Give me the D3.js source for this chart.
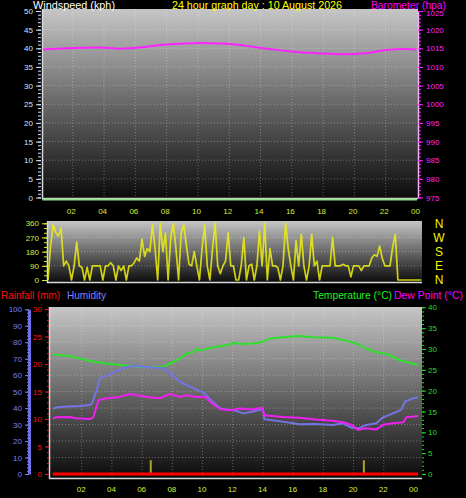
<!DOCTYPE html>
<html>
<head>
<meta charset="utf-8">
<script src="https://cdn.jsdelivr.net/npm/d3@7"></script>
<style>
  body { margin: 0; background: #000; }
  svg { display: block; font-family: "Liberation Sans", Arial, sans-serif; }
</style>
</head>
<body>
<div id="chart"></div>
<script>
// ---- data ----
const hourTicks = [2, 4, 6, 8, 10, 12, 14, 16, 18, 20, 22, 24];
const hourLabels = ["02", "04", "06", "08", "10", "12", "14", "16", "18", "20", "22", "00"];

// wind speed (kph) - calm all day
const windHours = [0.05, 24.0];
const windValues = [0, 0];

// barometer (hpa)
const baroHours = [0.1, 1.6, 3.7, 5.0, 6.3, 7.6, 8.85, 10.1, 11.4, 12.2, 13.5, 14.8, 16.1, 17.6, 19.3, 20.75, 21.8, 23.1, 23.95];
const baroValues = [1014.7, 1015.0, 1015.2, 1014.9, 1015.2, 1015.9, 1016.2, 1016.4, 1016.3, 1016.1, 1015.4, 1014.7, 1014.1, 1013.7, 1013.4, 1013.7, 1014.4, 1014.8, 1014.7];

// wind direction (degrees), one reading every 10 minutes
const dirStepMinutes = 10;
const dirValues = [
  0, 220, 350, 300, 280, 330, 90, 120, 90, 0,
  90, 240, 90, 80, 0, 80, 0, 90, 90, 90,
  90, 0, 90, 90, 110, 90, 0, 90, 60, 90,
  0, 90, 90, 110, 140, 120, 260, 150, 200, 180,
  350, 200, 0, 360, 180, 300, 0, 270, 360, 200,
  0, 300, 350, 220, 100, 90, 180, 90, 0, 200,
  350, 90, 0, 200, 360, 90, 40, 90, 120, 300,
  90, 90, 0, 0, 90, 270, 0, 90, 100, 0,
  90, 310, 90, 360, 0, 200, 90, 90, 80, 0,
  90, 360, 200, 90, 0, 250, 90, 290, 90, 0,
  90, 290, 90, 120, 0, 90, 90, 90, 90, 270,
  90, 90, 90, 100, 90, 90, 20, 90, 90, 90,
  60, 90, 90, 90, 140, 160, 150, 215, 140, 90,
  90, 90, 210, 290, 0, 0, 0, 0, 0, 0,
  0, 0, 0, 0
];
const compassValues = [0, 90, 180, 270, 360];
const compassLabels = ["N", "E", "S", "W", "N"];

// temperature (C)
const tempHours = [0.1, 1.2, 1.9, 2.55, 3.65, 4.75, 5.86, 7.3, 7.6, 8.5, 8.95, 9.4, 9.6, 9.8, 10.7, 11.6, 12.15, 12.5, 13.3, 14.0, 14.45, 15.3, 16.3, 17.3, 18.6, 19.5, 20.2, 20.85, 21.5, 22.2, 23.05, 23.7, 24.27];
const tempValues = [28.7, 28.3, 27.7, 27.1, 26.5, 26.1, 25.7, 25.7, 26.1, 27.7, 28.9, 29.3, 30.1, 29.6, 30.4, 30.9, 31.5, 31.2, 31.3, 31.7, 32.5, 32.8, 33.1, 32.8, 32.7, 32.0, 31.3, 30.1, 29.2, 28.8, 27.3, 26.7, 26.1];

// humidity (%)
const humHours = [0.1, 0.35, 0.8, 1.9, 2.55, 2.7, 3.0, 3.2, 3.65, 4.1, 4.5, 5.0, 5.6, 6.5, 7.4, 7.85, 8.3, 8.7, 9.4, 10.05, 10.5, 11.15, 11.8, 12.0, 12.7, 13.3, 14.0, 14.1, 15.3, 16.4, 17.5, 18.6, 19.3, 19.85, 20.3, 20.85, 21.5, 21.95, 22.6, 23.15, 23.4, 23.95, 24.27];
const humValues = [39.5, 40.5, 40.9, 41.3, 41.9, 43.3, 51, 58.1, 59.7, 61.7, 63.1, 65.1, 65.6, 64.8, 64.2, 61.5, 57.5, 55.1, 52, 49.6, 45.4, 39.9, 38.9, 38.9, 36.8, 37.8, 39.5, 33.2, 31.8, 30.2, 30.4, 29.8, 30.8, 28.1, 27.7, 29.8, 30.8, 34.4, 36.8, 38.9, 43.9, 46, 46.6];

// dew point (C)
const dewHours = [0.1, 0.35, 1.2, 1.6, 2.55, 2.77, 3.1, 3.65, 4.5, 5.2, 5.86, 6.5, 7.2, 7.85, 8.5, 8.95, 9.6, 10.2, 10.5, 11.15, 11.8, 12.5, 13.3, 13.9, 14.1, 15.3, 16.4, 17.5, 18.6, 19.3, 19.85, 20.3, 20.85, 21.5, 21.95, 22.6, 23.3, 23.5, 24.27];
const dewValues = [13.4, 13.6, 13.7, 13.4, 13.2, 13.6, 17.7, 18.2, 18.5, 19.2, 18.8, 18.4, 18.2, 19.2, 18.5, 18.9, 18.5, 18.5, 17.3, 15.6, 15.3, 15.7, 15.5, 15.9, 14.1, 13.7, 13.5, 13.1, 12.8, 12.4, 11.8, 10.6, 11.0, 10.7, 11.8, 12.2, 12.4, 13.6, 13.9];

// rainfall (mm) - none, plus two small marker bars
const rainHours = [0.08, 24.27];
const rainValues = [0, 0];
const markHours = [6.57, 20.68];
const markValues = [2.5, 2.5];

// ---- drawing ----
const W = 466, H = 498;
const svg = d3.select("#chart").append("svg").attr("width", W).attr("height", H);
svg.append("rect").attr("width", W).attr("height", H).attr("fill", "#000");

const grad = svg.append("defs").append("linearGradient")
    .attr("id", "bg").attr("x1", 0).attr("y1", 0).attr("x2", 0).attr("y2", 1);
grad.append("stop").attr("offset", "0%").attr("stop-color", "#c6c6c6");
grad.append("stop").attr("offset", "50%").attr("stop-color", "#676767");
grad.append("stop").attr("offset", "100%").attr("stop-color", "#0a0a0a");

const gridColor = "rgba(255,255,255,0.3)";
const labelYellow = "#d6ec3c";

function panel(x0, y0, x1, y1) {
    svg.append("rect")
        .attr("x", x0).attr("y", y0)
        .attr("width", x1 - x0).attr("height", y1 - y0)
        .attr("fill", "url(#bg)");
    // light frame on left and bottom
    svg.append("line").attr("x1", x0 + 0.5).attr("x2", x0 + 0.5).attr("y1", y0).attr("y2", y1)
        .attr("stroke", "#d8d8d8").attr("stroke-width", 1.5);
    svg.append("line").attr("x1", x0).attr("x2", x1).attr("y1", y1 - 0.5).attr("y2", y1 - 0.5)
        .attr("stroke", "#d8d8d8").attr("stroke-width", 1.5);
}

function hGrid(scale, values, x0, x1) {
    svg.append("g").selectAll("line").data(values).enter().append("line")
        .attr("x1", x0).attr("x2", x1)
        .attr("y1", d => scale(d)).attr("y2", d => scale(d))
        .attr("stroke", gridColor).attr("stroke-dasharray", "1,2");
}

function vGrid(scale, values, y0, y1) {
    svg.append("g").selectAll("line").data(values).enter().append("line")
        .attr("y1", y0).attr("y2", y1)
        .attr("x1", d => scale(d)).attr("x2", d => scale(d))
        .attr("stroke", gridColor).attr("stroke-dasharray", "1,2");
}

function styleAxis(g, color, size, domainColor) {
    g.selectAll("line").attr("stroke", color);
    g.selectAll("text").attr("fill", color).style("font-size", size + "px");
    if (domainColor) {
        g.select(".domain").attr("stroke", domainColor);
    } else {
        g.select(".domain").remove();
    }
}

function axisPair(axisFn, scale, major, minor, pos, color, opts) {
    const gMinor = svg.append("g").attr("transform", pos)
        .call(axisFn(scale).tickValues(minor).tickSize(opts.minorSize || 2).tickFormat(""));
    styleAxis(gMinor, color, 8);
    const gMajor = svg.append("g").attr("transform", pos)
        .call(axisFn(scale).tickValues(major).tickSize(opts.size || 5).tickSizeOuter(0)
            .tickPadding(opts.pad || 3).tickFormat(opts.format || d3.format("d")));
    styleAxis(gMajor, color, opts.font || 8, opts.domain);
    if (opts.domainWidth) gMajor.select(".domain").attr("stroke-width", opts.domainWidth);
    return gMajor;
}

function drawLine(xs, ys, xScale, yScale, color, width, curve) {
    const pts = xs.map((h, i) => [h, ys[i]]);
    svg.append("path").datum(pts)
        .attr("fill", "none").attr("stroke", color).attr("stroke-width", width)
        .attr("stroke-linejoin", "round")
        .attr("d", d3.line().x(d => xScale(d[0])).y(d => yScale(d[1])).curve(curve || d3.curveLinear));
}

// the original uses a narrow bitmap font, so squeeze titles to its widths
function title(x, y, text, color, len, anchor, size) {
    svg.append("text").attr("x", x).attr("y", y)
        .attr("fill", color).attr("text-anchor", anchor || "start")
        .attr("textLength", len).attr("lengthAdjust", "spacingAndGlyphs")
        .style("font-size", (size || 11) + "px").text(text);
}

// ===== top panel: wind speed and barometer =====
const xTop = d3.scaleLinear().domain([0, 24]).range([41.5, 417]);
const yWind = d3.scaleLinear().domain([0, 50]).range([197.5, 11]);
const yBaro = d3.scaleLinear().domain([975, 1025]).range([197.5, 11]);

panel(42, 9, 418, 199);
hGrid(yWind, d3.range(5, 50, 5), 43, 418);
vGrid(xTop, hourTicks.slice(0, -1), 9, 198);

axisPair(d3.axisLeft, yWind, d3.range(0, 51, 5), d3.range(0, 51, 1), "translate(41,0)", "#cfe4ff",
    { size: 5, minorSize: 3, pad: 3 });
const baroAxis = axisPair(d3.axisRight, yBaro, d3.range(975, 1026, 5), d3.range(975, 1026, 1), "translate(418,0)", "#ff20ff",
    { size: 5, minorSize: 3, pad: 3, domain: "#f4b0f4", domainWidth: 1.5 });
// keep the top pressure label clear of the title above it
baroAxis.selectAll("text").filter(d => d === 1025).attr("dy", "0.55em");

const xTopAxis = svg.append("g").attr("transform", "translate(0,200)")
    .call(d3.axisBottom(xTop).tickValues(hourTicks).tickSize(0).tickPadding(8)
        .tickFormat((d, i) => hourLabels[i]));
styleAxis(xTopAxis, labelYellow, 8);
xTopAxis.selectAll("text").attr("dx", -2);

drawLine(baroHours, baroValues, xTop, yBaro, "#ff22ff", 2, d3.curveMonotoneX);
svg.append("g").attr("transform", "translate(0,2)").append("path")
    .datum(windHours.map((h, i) => [h, windValues[i]]))
    .attr("fill", "none").attr("stroke", "#8fe08f").attr("stroke-width", 2)
    .attr("d", d3.line().x(d => xTop(d[0])).y(d => yWind(d[1])));

title(33, 8.5, "Windspeed (kph)", "#ffffff", 82, "start", 10);
title(172, 8.5, "24 hour graph day : 10 August 2026", "#ffff00", 170, "start", 10);
title(446, 8.5, "Barometer (hpa)", "#ff00ff", 75, "end", 10);

// ===== middle panel: wind direction =====
const xDir = d3.scaleLinear().domain([0, 24]).range([48, 424]);
const yDir = d3.scaleLinear().domain([0, 360]).range([280, 223.3]);

panel(47, 221, 422, 283);
hGrid(yDir, [90, 180, 270], 48, 422);

axisPair(d3.axisLeft, yDir, [0, 90, 180, 270, 360], d3.range(0, 361, 30), "translate(47,0)", labelYellow,
    { size: 5, minorSize: 3, pad: 3 });

svg.append("path").datum(dirValues)
    .attr("fill", "none").attr("stroke", "#eeee10").attr("stroke-width", 1.7)
    .attr("stroke-opacity", 0.85).attr("stroke-linejoin", "round")
    .attr("d", d3.line().x((d, i) => xDir(i * dirStepMinutes / 60)).y(d => yDir(d)));

svg.append("g").selectAll("text").data(compassValues).enter().append("text")
    .attr("x", 439).attr("y", d => yDir(d))
    .attr("dy", "0.36em").attr("text-anchor", "middle")
    .attr("fill", "#f4f400").style("font-size", "12px")
    .text((d, i) => compassLabels[i]);

// ===== bottom panel: rain, humidity, temperature, dew point =====
const xBot = d3.scaleLinear().domain([0, 24]).range([51.5, 414]);
const yHum = d3.scaleLinear().domain([0, 100]).range([474, 309.3]);
const yRain = d3.scaleLinear().domain([0, 30]).range([474, 309]);
const yTemp = d3.scaleLinear().domain([0, 40]).range([474, 307.3]);

panel(49, 307, 422, 479);
hGrid(yHum, d3.range(10, 100, 10), 50, 422);
vGrid(xBot, hourTicks.slice(0, -1), 307, 478);

axisPair(d3.axisLeft, yHum, d3.range(0, 101, 10), d3.range(0, 101, 2), "translate(29,0)", "#7f7ff4",
    { size: 4, minorSize: 2, pad: 3, domain: "#7070e8", domainWidth: 3 });
axisPair(d3.axisLeft, yRain, d3.range(0, 31, 5), d3.range(0, 31, 1), "translate(49,0)", "#ff1010",
    { size: 4, minorSize: 2, pad: 3 });
axisPair(d3.axisRight, yTemp, d3.range(0, 41, 5), d3.range(0, 41, 1), "translate(422,0)", "#22dd22",
    { size: 4, minorSize: 2, pad: 2 });

const xBotAxis = svg.append("g").attr("transform", "translate(0,478)")
    .call(d3.axisBottom(xBot).tickValues(hourTicks).tickSize(0).tickPadding(8)
        .tickFormat((d, i) => hourLabels[i]));
styleAxis(xBotAxis, labelYellow, 8);
xBotAxis.selectAll("text").attr("dx", -1);

svg.append("g").selectAll("line").data(markHours).enter().append("line")
    .attr("x1", d => xBot(d)).attr("x2", d => xBot(d))
    .attr("y1", yRain(0)).attr("y2", (d, i) => yRain(markValues[i]))
    .attr("stroke", "#b0a428").attr("stroke-width", 2);

drawLine(tempHours, tempValues, xBot, yTemp, "#2ee02e", 2);
drawLine(humHours, humValues, xBot, yHum, "#7474e6", 2);
drawLine(dewHours, dewValues, xBot, yTemp, "#f020f0", 2);
drawLine(rainHours, rainValues, xBot, yRain, "#ff0000", 3);

title(1, 299, "Rainfall (mm)", "#ff1010", 59);
title(67, 299, "Humidity", "#8080ff", 39);
title(313, 299, "Temperature (°C)", "#22ee22", 79);
title(394, 299, "Dew Point (°C)", "#ff00ff", 69);
</script>
</body>
</html>
